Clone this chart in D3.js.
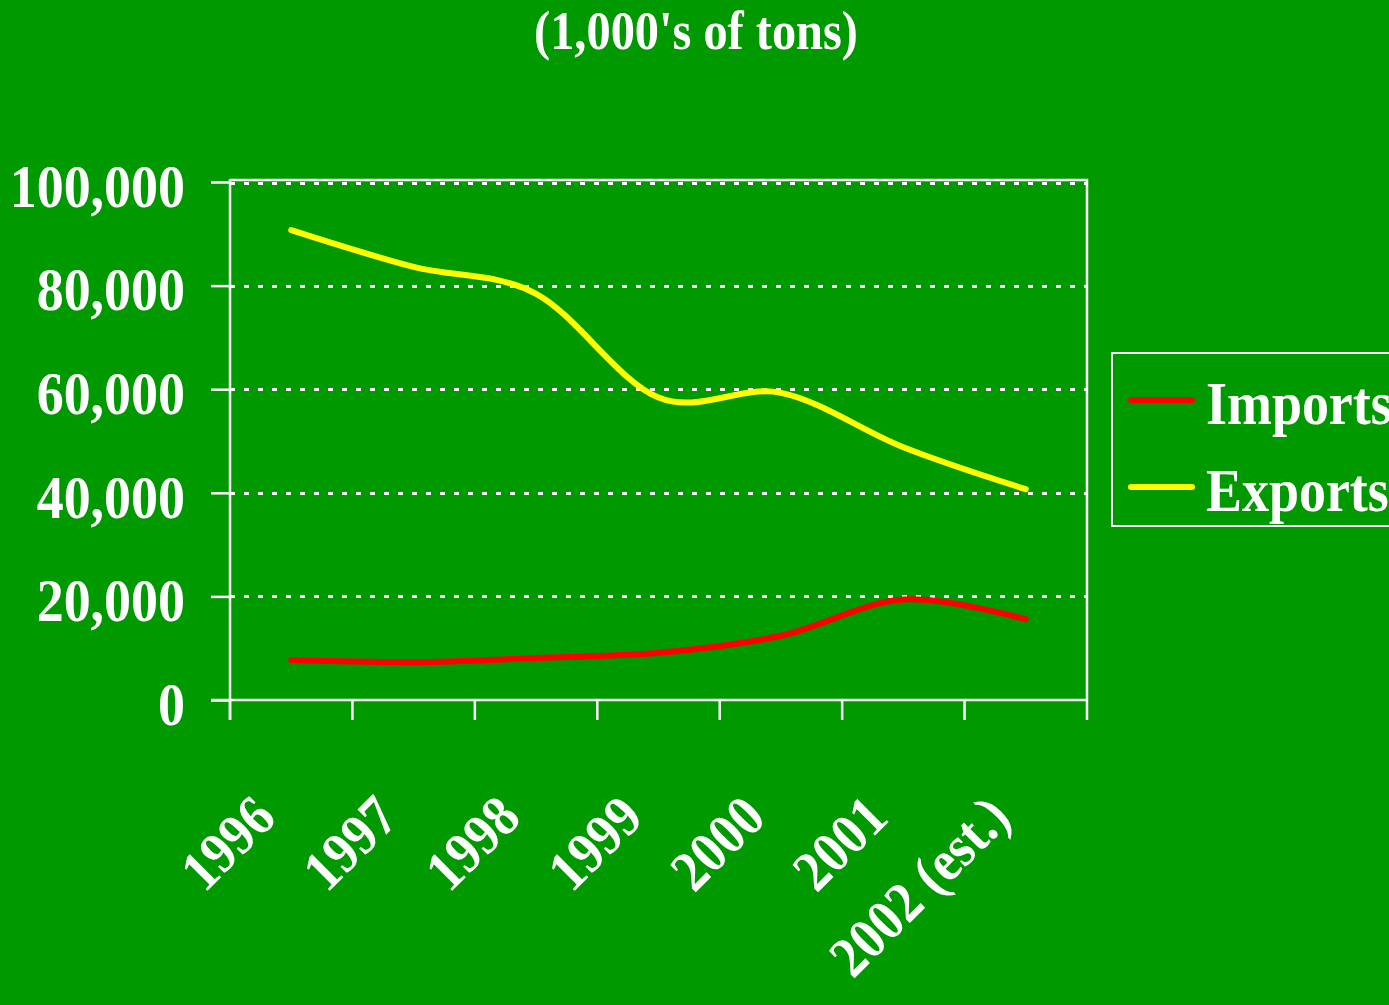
<!DOCTYPE html>
<html>
<head>
<meta charset="utf-8">
<script src="https://cdn.jsdelivr.net/npm/d3@7"></script>
<style>
  html, body { margin: 0; padding: 0; background: #009900; overflow: hidden; }
  svg { display: block; }
  text { font-family: "Liberation Serif", "Times New Roman", serif; font-weight: bold; fill: #ffffff; }
</style>
</head>
<body>
<svg id="chart" width="1389" height="1005"></svg>
<script>
// ---- data ----
const title = "(1,000's of tons)";
const categories = ["1996", "1997", "1998", "1999", "2000", "2001", "2002 (est.)"];
const imports = [7700, 7300, 8100, 9100, 12400, 19400, 15600];
const exports = [90700, 83600, 78400, 58400, 59300, 48800, 40700];
const seriesNames = ["Imports", "Exports"];
const seriesColors = ["#ff0000", "#ffff00"];
const yTicks = [0, 20000, 40000, 60000, 80000, 100000];

// ---- layout ----
const W = 1389, H = 1005;
const plot = { left: 230, right: 1087, top: 182, bottom: 700 };
const condense = 0.87;

const svg = d3.select("#chart");
svg.append("rect").attr("width", W).attr("height", H).attr("fill", "#009900");

const x = d3.scaleBand().domain(categories).range([plot.left, plot.right]).padding(0);
const y = d3.scaleLinear().domain([0, 100000]).range([plot.bottom, plot.top]);

// title
svg.append("text")
  .attr("transform", `translate(696,49) scale(0.88,1)`)
  .attr("text-anchor", "middle")
  .attr("font-size", 55)
  .text(title);

// gridlines (dotted)
svg.append("g").selectAll("line")
  .data(yTicks.filter(d => d > 0))
  .join("line")
  .attr("x1", plot.left).attr("x2", plot.right)
  .attr("y1", d => Math.round(y(d)) + (d === 100000 ? 1.5 : 0.5))
  .attr("y2", d => Math.round(y(d)) + (d === 100000 ? 1.5 : 0.5))
  .attr("stroke", "#ffffff")
  .attr("stroke-width", 3)
  .attr("shape-rendering", "crispEdges")
  .attr("stroke-dasharray", "5,9");

// plot border top & right
svg.append("path")
  .attr("d", `M${plot.left},${plot.top - 2}H${plot.right}V${plot.bottom}`)
  .attr("fill", "none").attr("stroke", "#ffffff").attr("stroke-width", 2.5);

// y axis
const yAxis = d3.axisLeft(y).tickValues(yTicks).tickSize(19).tickPadding(26)
  .tickFormat(d3.format(","));
const gy = svg.append("g").attr("transform", `translate(${plot.left},0)`).call(yAxis);
gy.select(".domain").remove();
gy.selectAll(".tick line").attr("stroke", "#ffffff").attr("stroke-width", 2.5);
gy.selectAll(".tick text")
  .attr("font-size", 62)
  .attr("font-family", "Liberation Serif, serif")
  .attr("font-weight", "bold")
  .attr("fill", "#ffffff")
  .each(function () {
    const t = d3.select(this);
    const tx = +t.attr("x");
    t.attr("x", 0).attr("dy", "0.36em").attr("transform", `translate(${tx},2) scale(${condense},1)`);
  });
svg.append("line")
  .attr("x1", plot.left).attr("x2", plot.left)
  .attr("y1", plot.top - 3).attr("y2", plot.bottom + 20)
  .attr("stroke", "#ffffff").attr("stroke-width", 2.5);

// x axis
const gx = svg.append("g").attr("transform", `translate(0,${plot.bottom})`)
  .call(d3.axisBottom(x).tickSize(0).tickPadding(0));
gx.select(".domain").remove();
gx.selectAll(".tick text")
  .attr("font-size", 58)
  .attr("font-family", "Liberation Serif, serif")
  .attr("font-weight", "bold")
  .attr("fill", "#ffffff")
  .attr("text-anchor", "end")
  .attr("y", 0).attr("dy", 0)
  .attr("transform", `translate(-13,120) rotate(-45) scale(0.9,1)`);
svg.append("line")
  .attr("x1", plot.left - 19).attr("x2", plot.right)
  .attr("y1", plot.bottom).attr("y2", plot.bottom)
  .attr("stroke", "#ffffff").attr("stroke-width", 2.5);
const boundaries = categories.map(c => x(c)).concat([x.range()[1]]);
svg.append("g").selectAll("line").data(boundaries).join("line")
  .attr("x1", d => d).attr("x2", d => d)
  .attr("y1", plot.bottom).attr("y2", plot.bottom + 20)
  .attr("stroke", "#ffffff").attr("stroke-width", 2.5);

// lines
const line = d3.line()
  .x((d, i) => x(categories[i]) + x.bandwidth() / 2)
  .y(d => y(d))
  .curve(d3.curveCardinal.tension(0));
[imports, exports].forEach((vals, k) => {
  svg.append("path")
    .attr("d", line(vals))
    .attr("fill", "none")
    .attr("stroke", seriesColors[k])
    .attr("stroke-width", 6)
    .attr("stroke-linecap", "round")
    .attr("stroke-linejoin", "round");
});

// legend
const lg = svg.append("g");
lg.append("rect")
  .attr("x", 1112).attr("y", 353).attr("width", 320).attr("height", 173)
  .attr("fill", "none").attr("stroke", "#ffffff").attr("stroke-width", 2);
seriesNames.forEach((name, i) => {
  const cy = 400 + i * 87;
  lg.append("line")
    .attr("x1", 1131).attr("x2", 1192).attr("y1", cy).attr("y2", cy)
    .attr("stroke", seriesColors[i]).attr("stroke-width", 6).attr("stroke-linecap", "round");
  lg.append("text")
    .attr("transform", `translate(1206,${cy + 24}) scale(${condense},1)`)
    .attr("font-size", 62)
    .text(name);
});
</script>
</body>
</html>
